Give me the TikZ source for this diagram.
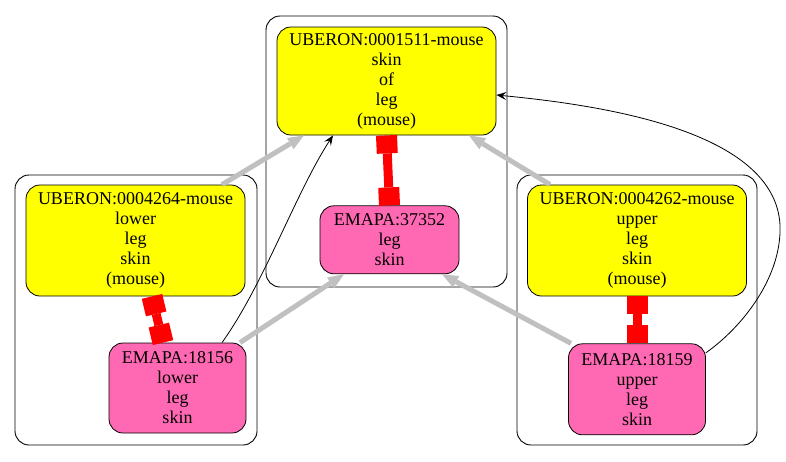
\documentclass[tikz,border=0pt]{standalone}
\usepackage{fontspec}
\setmainfont{Liberation Serif}
\usetikzlibrary{arrows.meta,
                backgrounds,
                positioning
            }

\definecolor{termyellow}{HTML}{FFFF00}
\definecolor{emapapink}{HTML}{FF69B4}
\definecolor{isagrey}{HTML}{C0C0C0}
\definecolor{xrefred}{HTML}{FF0000}

\begin{document}
\begin{tikzpicture}[x=1pt, y=-1pt,
                cluster/.style={draw, rounded corners=14pt, line width=0.9pt, inner sep=0pt},
                term/.style={draw, line width=0.8pt, rounded corners=14pt, align=center, inner sep=0pt,
                             font=\fontsize{18}{20}\selectfont},
                uberon/.style={term, fill=termyellow, minimum width=219pt},
                emapa/.style={term, fill=emapapink},
                isa/.style={isagrey, line width=5pt, -{Triangle[length=16pt, width=13pt, line width=0pt]}},
                xref/.style={xrefred, line width=9pt,
                             {Square[length=18pt, width=21pt, line width=0pt]}-{Square[length=18pt, width=21pt, line width=0pt]}},
                part/.style={black, line width=0.8pt, -{Stealth[length=10pt, width=8pt, inset=4pt]}}]
                \useasboundingbox (0,0) rectangle (786,461);

                % Clusters
                \node (grp_leg) [cluster, minimum width=241pt, minimum height=271pt] at (386.5,151.5) {};
                \node (grp_lower) [cluster, minimum width=242pt, minimum height=270pt] at (136,310) {};
                \node (grp_upper) [cluster, minimum width=240pt, minimum height=270pt] at (637,310) {};

                % Skin of leg
                \node (u1511) [uberon, minimum height=108pt] at (386.5,81) {UBERON:0001511-mouse\\skin\\of\\leg\\(mouse)};
                \node (e37352) [emapa, minimum width=139pt, minimum height=68pt, below=70pt of u1511, xshift=3pt] {EMAPA:37352\\leg\\skin};

                % Lower leg skin
                \node (u4264) [uberon, minimum height=111pt] at (135.5,240.5) {UBERON:0004264-mouse\\lower\\leg\\skin\\(mouse)};
                \node (e18156) [emapa, minimum width=137pt, minimum height=90pt] at (177.5,388) {EMAPA:18156\\lower\\leg\\skin};

                % Upper leg skin
                \node (u4262) [uberon, minimum height=111pt] at (637,240.5) {UBERON:0004262-mouse\\upper\\leg\\skin\\(mouse)};
                \node (e18159) [emapa, minimum width=137pt, minimum height=91pt, below=47pt of u4262] {EMAPA:18159\\upper\\leg\\skin};

                % Equivalences
                \draw[xref] (u1511.south) -- (e37352.north);
                \draw[xref] ([xshift=16.5pt]u4264.south) -- ([xshift=-14.5pt]e18156.north);
                \draw[xref] (u4262.south) -- (e18159.north);

                % Subclass links
                \draw[isa] ([xshift=86.5pt]u4264.north) -- ([xshift=-82.5pt]u1511.south);
                \draw[isa] ([xshift=-87pt]u4262.north) -- ([xshift=82.5pt]u1511.south);
                \draw[isa] ([xshift=62.5pt]e18156.north) -- ([xshift=-45.5pt]e37352.south);
                \draw[isa] ([xshift=-66pt]e18159.north) -- ([xshift=52.5pt]e37352.south);

                % Part-of links
                \draw[part] ([xshift=44.5pt]e18156.north) .. controls (264,284) and (296,192) .. ([xshift=-53.5pt]u1511.south);
                \draw[part] ([yshift=36.5pt]e18159.east) .. controls (745,325) and (782,275) .. (780,225)
                            .. controls (775,130) and (600,105) .. ([yshift=-14pt]u1511.east);
            \end{tikzpicture}
\end{document}
